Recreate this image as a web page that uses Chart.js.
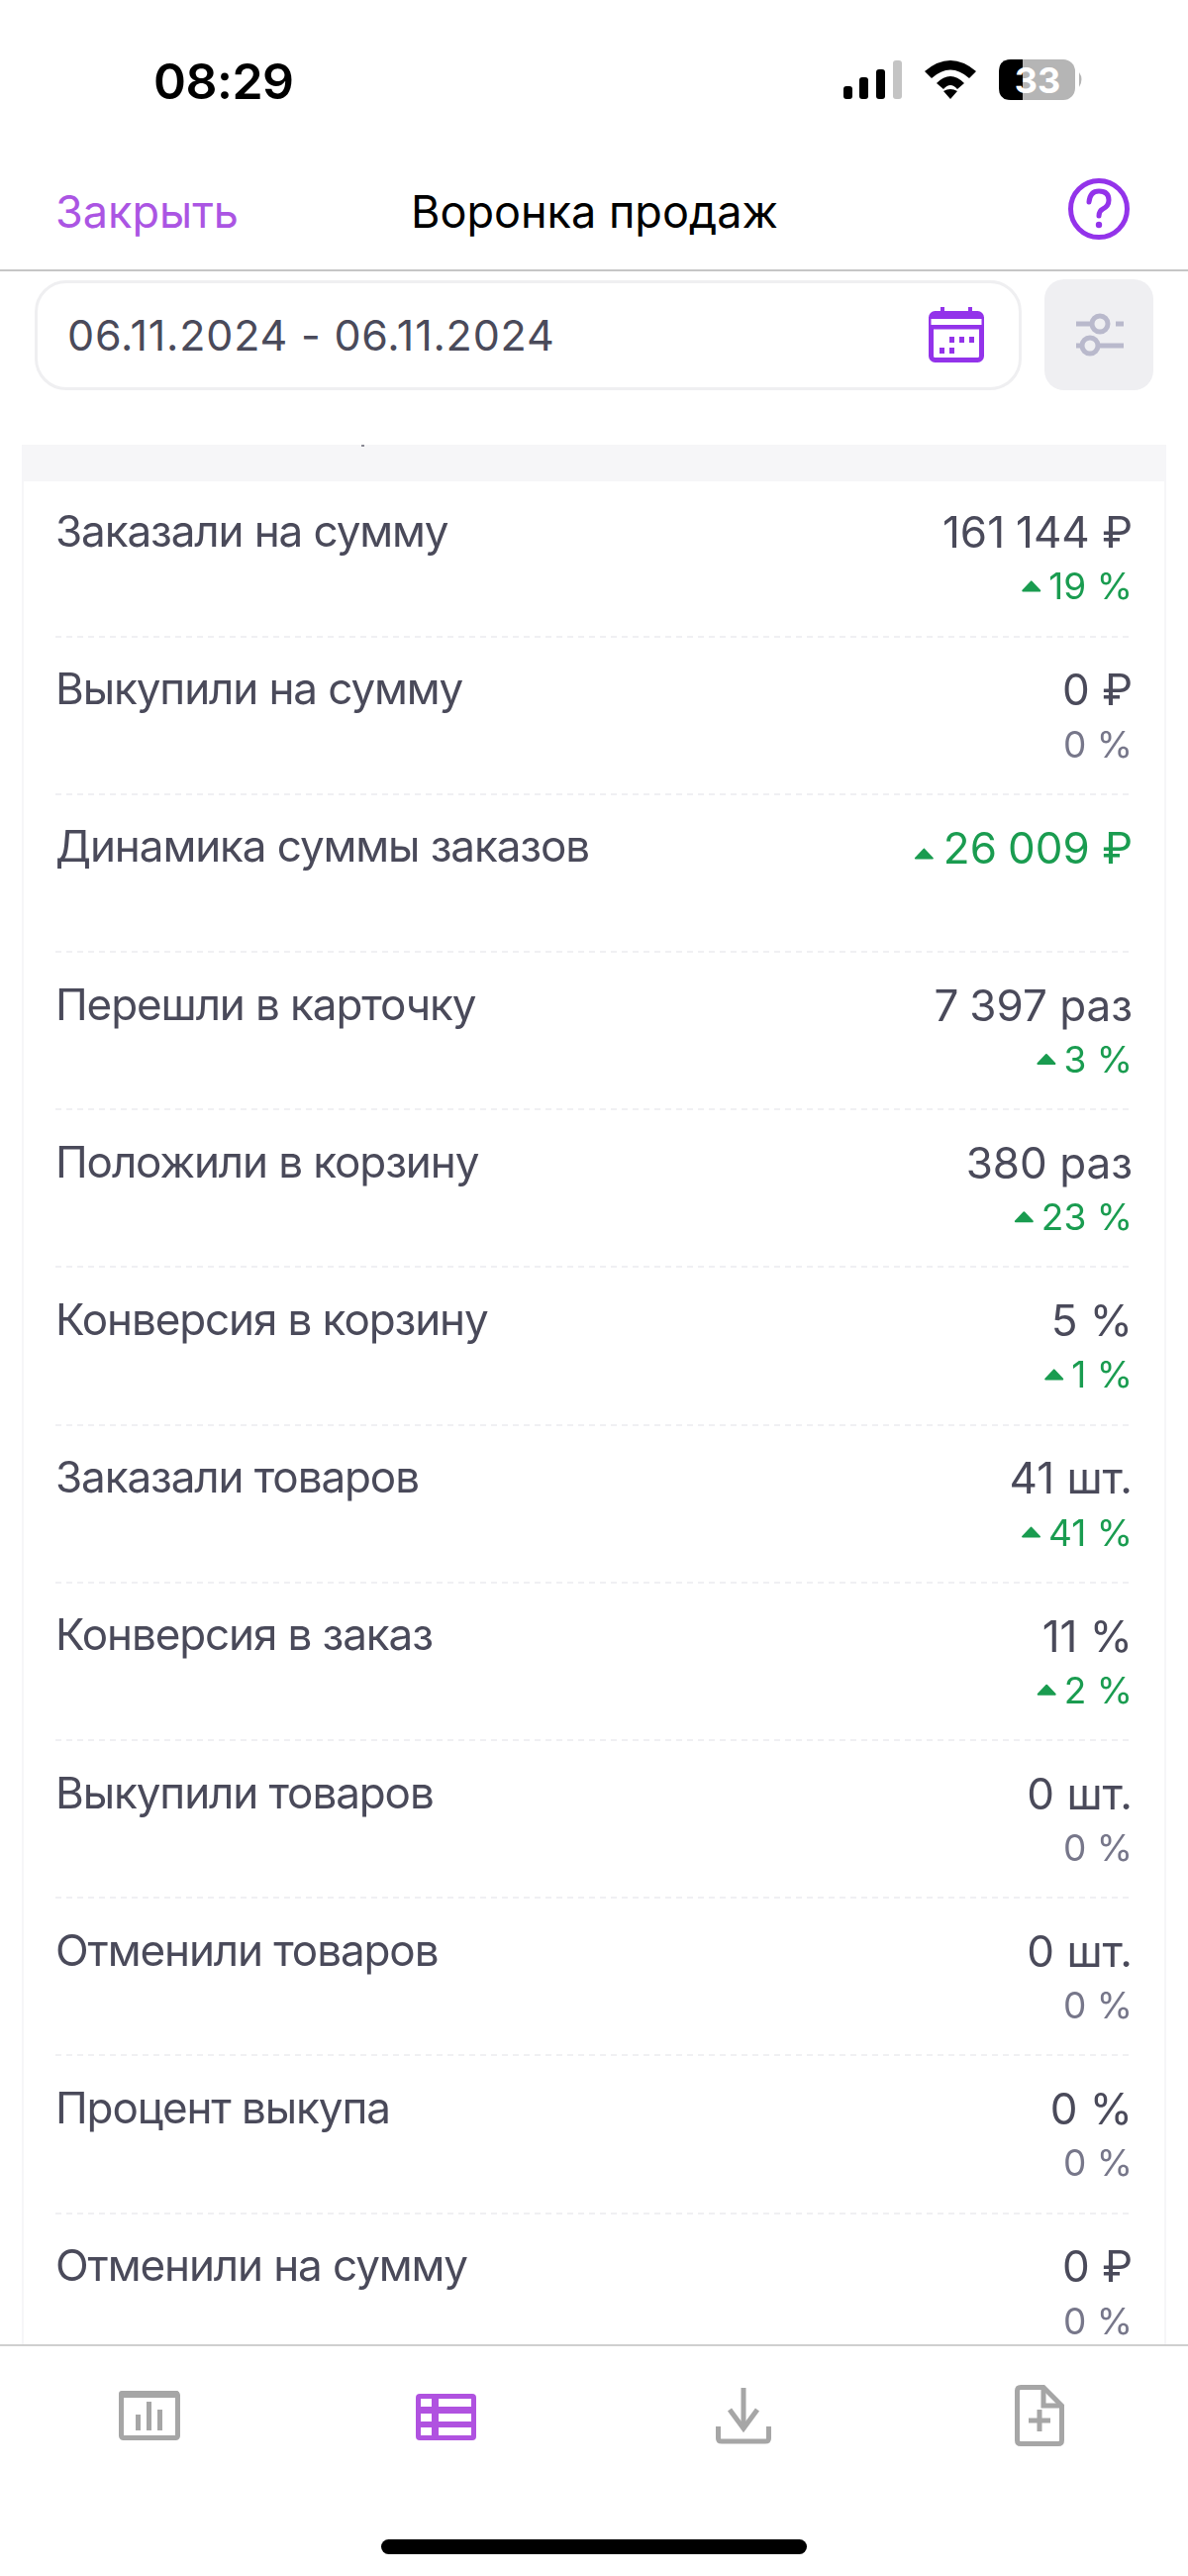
<!DOCTYPE html>
<html lang="ru">
<head>
<meta charset="UTF-8">
<title>Воронка продаж</title>
<script src="https://cdn.jsdelivr.net/npm/chart.js"></script>
<style>
    html, body { margin: 0; padding: 0; background: #fff; }
    body { position: relative; width: 1200px; height: 2601px; overflow: hidden; font-family: Inter, "Noto Sans", sans-serif; }
    .txt { position: absolute; white-space: nowrap; line-height: 1; }
    .box { position: absolute; box-sizing: border-box; }
    svg { position: absolute; overflow: visible; }
    /* chart.js reserves half of a two-line label above and below the rows, so the canvas is bigger each way */
    #rows { position: absolute; left: 0; top: 434.6px; width: 1200px; height: 2007.2px; }
    #nav { position: absolute; left: 0; top: 2367px; width: 1200px; height: 234px; background: #fff; border-top: 2px solid #cfcfcf; box-sizing: border-box; }
</style>
</head>
<body>

<!-- status bar -->
<div class="txt" style="left:155px;top:57px;font-size:50px;font-weight:600;color:#000;letter-spacing:-0.5px">08:29</div>
<svg style="left:0;top:0" width="1200" height="200">
    <rect x="852" y="87" width="9" height="13" rx="3" fill="#000"/>
    <rect x="868" y="78" width="9" height="22" rx="3" fill="#000"/>
    <rect x="885" y="70" width="9" height="30" rx="3" fill="#000"/>
    <rect x="902" y="61" width="9" height="39" rx="3" fill="#c4c4c4"/>
    <path d="M934 72 Q960 50 986 72 L979 79 Q960 62 941 79 Z" fill="#000"/>
    <path d="M946 84 Q960 70 974 84 L967 90 Q960 82 953 90 Z" fill="#000"/>
    <path d="M953 92 Q960 88 967 92 L960 100 Z" fill="#000"/>
    <rect x="1009" y="60" width="77" height="41" rx="12" fill="#b5b5b5"/>
    <path d="M1021 60 H1033 V101 H1021 Q1009 101 1009 89 V72 Q1009 60 1021 60 Z" fill="#000"/>
    <path d="M1090 73 Q1095 80 1090 88 Z" fill="#b5b5b5"/>
    <text x="1048" y="94" text-anchor="middle" font-family="Inter" font-weight="700" font-size="36" fill="#fff">33</text>
</svg>

<!-- header -->
<div class="txt" style="left:56px;top:191px;font-size:45px;color:#ab55e3">Закрыть</div>
<div class="txt" style="left:415px;top:191px;font-size:45px;color:#000">Воронка продаж</div>
<svg style="left:1078px;top:179px" width="64" height="64">
    <circle cx="32" cy="32" r="28.5" fill="none" stroke="#9333ea" stroke-width="5"/>
    <path d="M22 25 Q23 14 32 14 Q42 14 42 23 Q42 29 36 32 Q32 34 32 39" fill="none" stroke="#9333ea" stroke-width="5" stroke-linecap="round"/>
    <circle cx="32" cy="48" r="3.2" fill="#9333ea"/>
</svg>
<div class="box" style="left:0;top:272px;width:1200px;height:2px;background:#c6c6c6"></div>

<!-- date filter -->
<div class="box" style="left:35px;top:283px;width:997px;height:111px;border:3px solid #efeff1;border-radius:32px;background:#fff"></div>
<div class="txt" style="left:68px;top:317px;font-size:43px;color:#4a4a5a;letter-spacing:0.8px">06.11.2024 - 06.11.2024</div>
<svg style="left:938px;top:310px" width="56" height="56">
    <rect x="2.5" y="6.5" width="51" height="47" rx="4" fill="none" stroke="#9333ea" stroke-width="5"/>
    <rect x="2.5" y="6.5" width="51" height="16" fill="#9333ea"/>
    <rect x="12" y="0" width="4" height="10" fill="#9333ea"/>
    <rect x="40" y="0" width="4" height="10" fill="#9333ea"/>
    <rect x="2.5" y="12" width="51" height="6" fill="#fff"/>
    <g fill="#9333ea">
        <rect x="21" y="30" width="5" height="6"/><rect x="31" y="30" width="5" height="6"/><rect x="41" y="30" width="5" height="6"/>
        <rect x="11" y="41" width="5" height="6"/><rect x="21" y="41" width="5" height="6"/>
    </g>
</svg>
<div class="box" style="left:1055px;top:282px;width:110px;height:112px;border-radius:20px;background:#efeff2"></div>
<svg style="left:1087px;top:316px" width="48" height="44">
    <g fill="none" stroke="#b9b9cc" stroke-width="5">
        <path d="M0 11 H15"/><circle cx="24" cy="11" r="8"/><path d="M40 11 H48"/>
        <path d="M0 33 H6"/><circle cx="14" cy="33" r="8"/><path d="M24 33 H48"/>
    </g>
</svg>

<!-- panel -->
<div class="box" style="left:22px;top:449px;width:1156px;height:37px;background:#f6f6f8"></div>
<div class="box" style="left:365px;top:449px;width:3px;height:2px;background:#8a8a94"></div>
<div class="box" style="left:22px;top:486px;width:2px;height:1890px;background:#f6f6f8"></div>
<div class="box" style="left:1176px;top:486px;width:2px;height:1890px;background:#f6f6f8"></div>

<div id="rows"><canvas id="funnelChart"></canvas></div>

<!-- bottom nav -->
<div id="nav"></div>
<svg style="left:0;top:2400px" width="1200" height="201">
    <g fill="none" stroke="#a6a6a6" stroke-width="5">
        <rect x="122.5" y="16.5" width="57" height="45" rx="2"/>
    </g>
    <rect x="120" y="14" width="61" height="7" rx="3" fill="#a6a6a6"/>
    <g fill="#a6a6a6">
        <rect x="137" y="38" width="5" height="16"/><rect x="148" y="25" width="5" height="29"/><rect x="159" y="33" width="5" height="21"/>
    </g>
    <rect x="420" y="17" width="61" height="47" rx="4" fill="#b052e0"/>
    <g fill="#fff">
        <rect x="425" y="22" width="11" height="8"/><rect x="443" y="22" width="33" height="8"/>
        <rect x="425" y="37" width="11" height="8"/><rect x="443" y="37" width="33" height="8"/>
        <rect x="425" y="51" width="11" height="8"/><rect x="443" y="51" width="33" height="8"/>
    </g>
    <g fill="none" stroke="#a6a6a6" stroke-width="5">
        <path d="M751 11 V50"/>
        <path d="M737 33 L751 52 L765 33"/>
        <path d="M725.5 50 V62 Q725.5 65 729 65 H773 Q776.5 65 776.5 62 V50"/>
    </g>
    <g fill="none" stroke="#a6a6a6" stroke-width="5">
        <path d="M1054 10.5 H1031 Q1027.5 10.5 1027.5 14 V64 Q1027.5 67.5 1031 67.5 H1069 Q1072.5 67.5 1072.5 64 V29 Z"/>
        <path d="M1054 10.5 V29 H1072.5"/>
        <path d="M1050 33 V55 M1039 44 H1061"/>
    </g>
    <rect x="385" y="164" width="430" height="15" rx="7.5" fill="#000"/>
</svg>

<script>
    var categories = ['Заказали на сумму', 'Выкупили на сумму', 'Динамика суммы заказов', 'Перешли в карточку',
        'Положили в корзину', 'Конверсия в корзину', 'Заказали товаров', 'Конверсия в заказ',
        'Выкупили товаров', 'Отменили товаров', 'Процент выкупа', 'Отменили на сумму'];
    var values = [161144, 0, 26009, 7397, 380, 5, 41, 11, 0, 0, 0, 0];
    var units = ['₽', '₽', '₽', 'раз', 'раз', '%', 'шт.', '%', 'шт.', 'шт.', '%', '₽'];
    var deltas = [19, 0, null, 3, 23, 1, 41, 2, 0, 0, 0, 0]; // null = строка без процента, само значение зелёное

    var TEXT = '#4a4a5a', GREY = '#77778a', GREEN = '#1a9c50';

    function fmt(n, unit) {
        return String(n).replace(/\B(?=(\d{3})+$)/g, '\u2005') + ' ' + unit;
    }

    function drawUp(ctx, right, y) {
        ctx.strokeStyle = ctx.fillStyle;
        ctx.lineWidth = 2;
        ctx.lineJoin = 'round';
        ctx.beginPath();
        ctx.moveTo(right - 18, y - 1);
        ctx.lineTo(right - 9.5, y - 10);
        ctx.lineTo(right - 1, y - 1);
        ctx.closePath();
        ctx.fill();
        ctx.stroke();
    }

    // значения справа в каждой строке
    var rowValues = {
        id: 'rowValues',
        beforeDraw: function(chart) {
            chart.ctx.letterSpacing = '-1.1px'; // подписи строк у́же, чем в Inter
        },
        afterDatasetsDraw: function(chart) {
            var ctx = chart.ctx;
            var right = chart.chartArea.right;
            var bars = chart.getDatasetMeta(0).data;
            ctx.save();
            ctx.letterSpacing = '0px';
            ctx.textAlign = 'right';
            ctx.textBaseline = 'alphabetic';
            bars.forEach(function(bar, i) {
                var text = fmt(values[i], units[i]);
                var top = bar.y - 9.8;
                ctx.font = '44px Inter';
                if (deltas[i] === null) {
                    ctx.fillStyle = GREEN;
                    ctx.fillText(text, right, top);
                    drawUp(ctx, right - ctx.measureText(text).width - 10, top - 4);
                    return;
                }
                ctx.fillStyle = TEXT;
                ctx.fillText(text, right, top);
                var sub = deltas[i] + ' %';
                ctx.font = '37px Inter';
                ctx.fillStyle = deltas[i] > 0 ? GREEN : GREY;
                ctx.fillText(sub, right, bar.y + 42.4);
                if (deltas[i] > 0) {
                    drawUp(ctx, right - ctx.measureText(sub).width - 8, bar.y + 34.4);
                }
            });
            ctx.restore();
        }
    };

    new Chart(document.getElementById('funnelChart'), {
        type: 'bar',
        data: {
            labels: categories.map(function(c) { return [c, '']; }),
            datasets: [{
                data: values,
                backgroundColor: 'transparent'
            }]
        },
        options: {
            indexAxis: 'y',
            responsive: true,
            maintainAspectRatio: false,
            animation: false,
            layout: { padding: { left: 56, right: 56 } },
            plugins: { legend: { display: false }, tooltip: { enabled: false } },
            scales: {
                x: { display: false },
                y: {
                    offset: true,
                    border: { display: false, dash: [6, 5] },
                    grid: {
                        offset: true,
                        drawTicks: false,
                        lineWidth: 2,
                        color: function(c) { return c.index === 0 ? 'transparent' : '#f0f0f3'; }
                    },
                    ticks: {
                        mirror: true,
                        padding: 0,
                        autoSkip: false,
                        color: TEXT,
                        font: { family: 'Inter', size: 44, lineHeight: 1.1 }
                    }
                }
            }
        },
        plugins: [rowValues]
    });
</script>

</body>
</html>
